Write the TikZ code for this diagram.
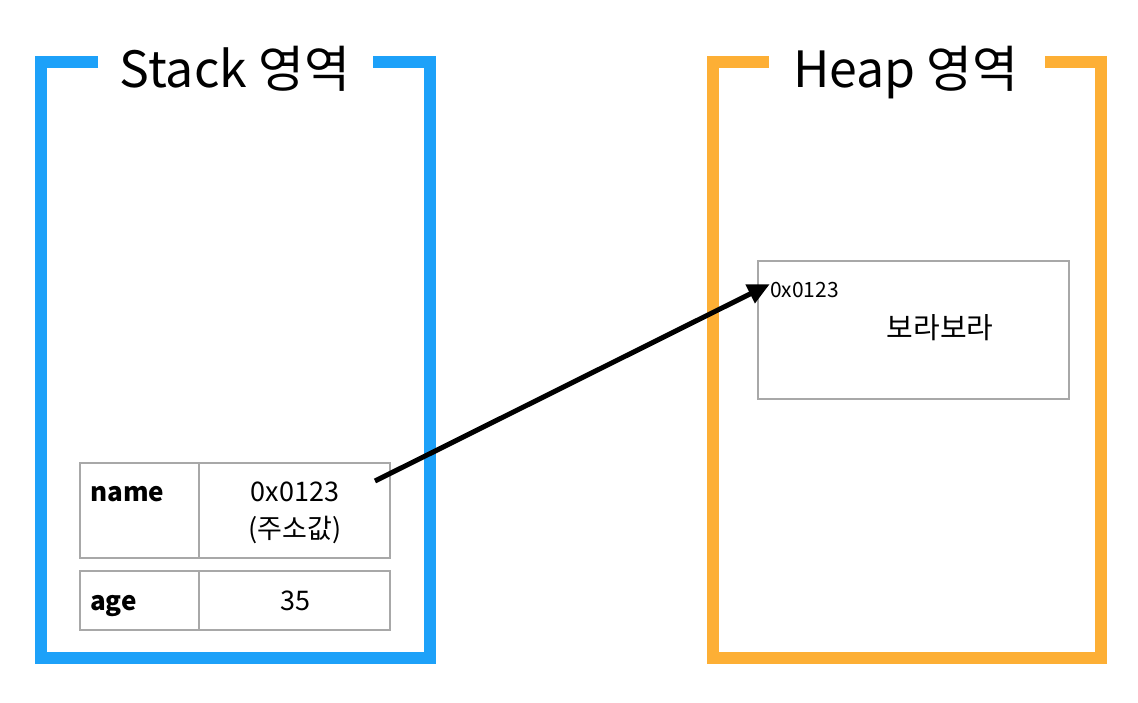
\documentclass[tikz,border=0pt]{standalone}
\usepackage{fontspec}
\setmainfont{Noto Sans CJK KR}
\usetikzlibrary{arrows.meta}
\definecolor{stackblue}{HTML}{1DA1F9}
\definecolor{heaporange}{HTML}{FDAF35}
\definecolor{cellgray}{HTML}{A8A8A8}
\tikzset{
  bracket/.style={line width=12pt, line cap=butt, line join=miter},
  title/.style={font=\fontsize{50}{58}\selectfont, inner sep=0pt, anchor=base},
  cell/.style={draw=cellgray, line width=1.2pt, inner sep=0pt},
  celltext/.style={font=\fontsize{27}{36}\selectfont, inner sep=0pt},
  keytext/.style={font=\fontsize{26}{34}\selectfont\bfseries, inner sep=0pt, anchor=base west},
  pointer/.style={line width=5pt, -{Triangle[length=22pt,width=20pt]}, shorten >=-2pt}
}
\begin{document}
\begin{tikzpicture}[x=1pt,y=-1pt]
\useasboundingbox (0,0) rectangle (1138,702);
% Stack bracket
\draw[bracket, stackblue] (98,62) -- (41,62) -- (41,658) -- (430,658) -- (430,62) -- (373,62);
\node[title] (stacktitle) at (235,87) {Stack 영역};
% Heap bracket
\draw[bracket, heaporange] (769,62) -- (713,62) -- (713,658) -- (1101,658) -- (1101,62) -- (1045,62);
\node[title] (heaptitle) at (906,87) {Heap 영역};
% Stack table
\node[cell, minimum width=119pt, minimum height=95pt] (namekey) at (139.5,510.5) {};
\node[cell, minimum width=191pt, minimum height=95pt] (nameval) at (294.5,510.5) {};
\node[cell, minimum width=119pt, minimum height=59pt] (agekey) at (139.5,600.5) {};
\node[cell, minimum width=191pt, minimum height=59pt] (ageval) at (294.5,600.5) {};
\node[keytext] (namelbl) at (90,501) {name};
\node[celltext, anchor=base] (namev) at (295,501) {0x0123};
\node[celltext, anchor=base] (nameann) at (295,538) {(주소값)};
\node[keytext] (agelbl) at (90,610) {age};
\node[celltext, anchor=base] (agev) at (295,610) {35};
% Heap object
\node[cell, minimum width=311pt, minimum height=138pt] (obj) at (913.5,330) {};
\node[inner sep=0pt, anchor=base west, font=\fontsize{21}{24}\selectfont] (addr) at (770,297) {0x0123};
\node[inner sep=0pt, anchor=base, font=\fontsize{29}{34}\selectfont] (objval) at (940,338) {보라보라};
% Pointer
\coordinate (ptrstart) at (375,481);
\coordinate (ptrend) at (768,285);
\draw[pointer] (ptrstart) -- (ptrend);
\end{tikzpicture}
\end{document}
